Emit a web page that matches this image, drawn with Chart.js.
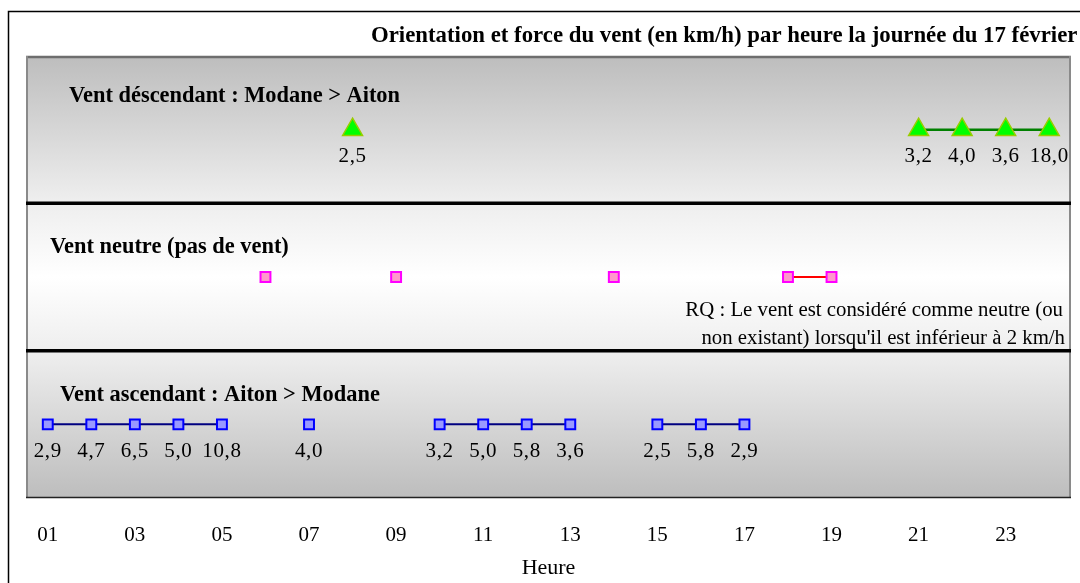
<!DOCTYPE html>
<html><head><meta charset="utf-8">
<script src="https://cdn.jsdelivr.net/npm/chart.js@4.4.1/dist/chart.umd.min.js"></script>
<style>html,body{margin:0;padding:0;background:#fff;overflow:hidden}</style>
</head><body>
<canvas id="c" width="1080" height="583"></canvas>
<script>
const chartTitle = 'Orientation et force du vent (en km/h) par heure la journée du 17 février';
const bands = ['Vent déscendant : Modane > Aiton', 'Vent neutre (pas de vent)', 'Vent ascendant : Aiton > Modane'];
const hourTicks = [1, 3, 5, 7, 9, 11, 13, 15, 17, 19, 21, 23];
const descHours = [8, 21, 22, 23, 24];
const descValues = [2.5, 3.2, 4.0, 3.6, 18.0];
const neutralHours = [6, 9, 14, 18, 19];
const ascHours = [1, 2, 3, 4, 5, 7, 10, 11, 12, 13, 15, 16, 17];
const ascValues = [2.9, 4.7, 6.5, 5.0, 10.8, 4.0, 3.2, 5.0, 5.8, 3.6, 2.5, 5.8, 2.9];
const noteLines = ['RQ : Le vent est considéré comme neutre (ou', "non existant) lorsqu'il est inférieur à 2 km/h"];
const xTitle = 'Heure';

const SERIF = "'Liberation Serif', 'Times New Roman', serif";

function gapSegment(color) {
  return ctx => (ctx.p1.parsed.x - ctx.p0.parsed.x > 1 ? 'rgba(0,0,0,0)' : color);
}

const bgPlugin = {
  id: 'bands',
  beforeDatasetsDraw(chart) {
    const {ctx, chartArea: a, scales: {y}} = chart;
    const b = [0, 1, 2, 3].map(i => y.getPixelForDecimal(i / 3));
    ctx.save();
    let g = ctx.createLinearGradient(0, b[0], 0, b[1]);
    g.addColorStop(0, '#bdbdbd'); g.addColorStop(1, '#efefef');
    ctx.fillStyle = g; ctx.fillRect(a.left, b[0], a.right - a.left, b[1] - b[0]);
    g = ctx.createLinearGradient(0, b[1], 0, b[2]);
    g.addColorStop(0, '#eeeeee'); g.addColorStop(0.5, '#ffffff'); g.addColorStop(1, '#eeeeee');
    ctx.fillStyle = g; ctx.fillRect(a.left, b[1], a.right - a.left, b[2] - b[1]);
    g = ctx.createLinearGradient(0, b[2], 0, b[3]);
    g.addColorStop(0, '#efefef'); g.addColorStop(1, '#bdbdbd');
    ctx.fillStyle = g; ctx.fillRect(a.left, b[2], a.right - a.left, b[3] - b[2]);
    ctx.strokeStyle = '#6e6e6e';
    ctx.lineWidth = 2.5;
    ctx.beginPath(); ctx.moveTo(a.left, b[0] + 1); ctx.lineTo(a.right, b[0] + 1); ctx.stroke();
    ctx.strokeStyle = '#8a8a8a';
    ctx.lineWidth = 2;
    ctx.beginPath(); ctx.moveTo(a.left + 1, b[0]); ctx.lineTo(a.left + 1, b[3]); ctx.stroke();
    ctx.beginPath(); ctx.moveTo(a.right - 1, b[0]); ctx.lineTo(a.right - 1, b[3]); ctx.stroke();
    ctx.strokeStyle = '#222';
    ctx.lineWidth = 1.5;
    ctx.beginPath(); ctx.moveTo(a.left, b[3] - 0.5); ctx.lineTo(a.right, b[3] - 0.5); ctx.stroke();
    ctx.strokeStyle = '#000';
    ctx.lineWidth = 3.5;
    [b[1], b[2]].forEach(yy => { ctx.beginPath(); ctx.moveTo(a.left, yy); ctx.lineTo(a.right, yy); ctx.stroke(); });
    ctx.restore();
  },
  afterDatasetsDraw(chart) {
    const {ctx, scales: {y}} = chart;
    const b = [0, 1, 2, 3].map(i => y.getPixelForDecimal(i / 3));
    ctx.save();
    ctx.fillStyle = '#000';
    ctx.font = '21px ' + SERIF;
    ctx.textAlign = 'center';
    ctx.textBaseline = 'middle';
    if ('letterSpacing' in ctx) ctx.letterSpacing = '0.6px';
    chart.data.datasets.forEach((ds, di) => {
      const meta = chart.getDatasetMeta(di);
      meta.data.forEach((pt, i) => {
        const v = ds.data[i].v;
        if (v == null) return;
        ctx.fillText(v.toFixed(1).replace('.', ','), pt.x, pt.y + 27);
      });
    });
    if ('letterSpacing' in ctx) ctx.letterSpacing = '0px';
    ctx.font = 'bold 22.4px ' + SERIF;
    ctx.textAlign = 'left';
    const titlePos = [[69, 40], [50, 44], [60, 45]];
    y.getLabels().forEach((lab, i) => {
      ctx.fillText(lab, titlePos[i][0], b[i] + titlePos[i][1]);
    });
    ctx.font = '20.8px ' + SERIF;
    ctx.textAlign = 'right';
    ctx.fillText(noteLines[0], 1063, b[1] + 107);
    ctx.fillText(noteLines[1], 1065, b[1] + 135);
    ctx.font = 'bold 22.8px ' + SERIF;
    ctx.textAlign = 'left';
    ctx.fillText(chartTitle, 371, 36);
    ctx.strokeStyle = '#000';
    ctx.lineWidth = 1.5;
    ctx.beginPath(); ctx.moveTo(8.5, 583); ctx.lineTo(8.5, 11.5); ctx.lineTo(1080, 11.5); ctx.stroke();
    ctx.restore();
  }
};

new Chart(document.getElementById('c'), {
  type: 'line',
  data: {
    datasets: [
      {
        label: 'descendant',
        data: descHours.map((h, i) => ({x: h, y: bands[0], v: descValues[i]})),
        borderColor: '#008000', borderWidth: 2.5, clip: false,
        segment: {borderColor: gapSegment('#008000')},
        pointStyle: 'triangle', pointRadius: 11.5,
        pointBackgroundColor: '#00ff00', pointBorderColor: '#99cc00', pointBorderWidth: 1.5
      },
      {
        label: 'neutre',
        data: neutralHours.map(h => ({x: h, y: bands[1], v: null})),
        borderColor: '#ff0000', borderWidth: 2, clip: false,
        segment: {borderColor: gapSegment('#ff0000')},
        pointStyle: 'rect', pointRadius: 7,
        pointBackgroundColor: '#ff99cc', pointBorderColor: '#ff00ff', pointBorderWidth: 2
      },
      {
        label: 'ascendant',
        data: ascHours.map((h, i) => ({x: h, y: bands[2], v: ascValues[i]})),
        borderColor: '#000080', borderWidth: 2, clip: false,
        segment: {borderColor: gapSegment('#000080')},
        pointStyle: 'rect', pointRadius: 7,
        pointBackgroundColor: '#9999ff', pointBorderColor: '#0000ff', pointBorderWidth: 2
      }
    ]
  },
  options: {
    responsive: false,
    animation: false,
    devicePixelRatio: 1,
    layout: {autoPadding: false, padding: {left: 26, right: 9, top: 56, bottom: 0}},
    plugins: {legend: {display: false}, tooltip: {enabled: false}, title: {display: false}},
    scales: {
      x: {
        type: 'linear', position: 'bottom',
        min: 0.5, max: 24.5,
        grid: {display: false, drawTicks: false},
        border: {display: false},
        afterBuildTicks: s => { s.ticks = hourTicks.map(v => ({value: v})); },
        afterFit: s => { s.height = 85; },
        ticks: {
          autoSkip: false, maxRotation: 0, padding: 25, color: '#000',
          font: {family: SERIF, size: 21},
          callback: v => String(v).padStart(2, '0')
        },
        title: {display: true, text: xTitle, color: '#000', font: {family: SERIF, size: 22}, padding: {top: 0, bottom: 2}}
      },
      y: {
        type: 'category', labels: bands, offset: true, display: false
      }
    }
  },
  plugins: [bgPlugin]
});
</script>
</body></html>
